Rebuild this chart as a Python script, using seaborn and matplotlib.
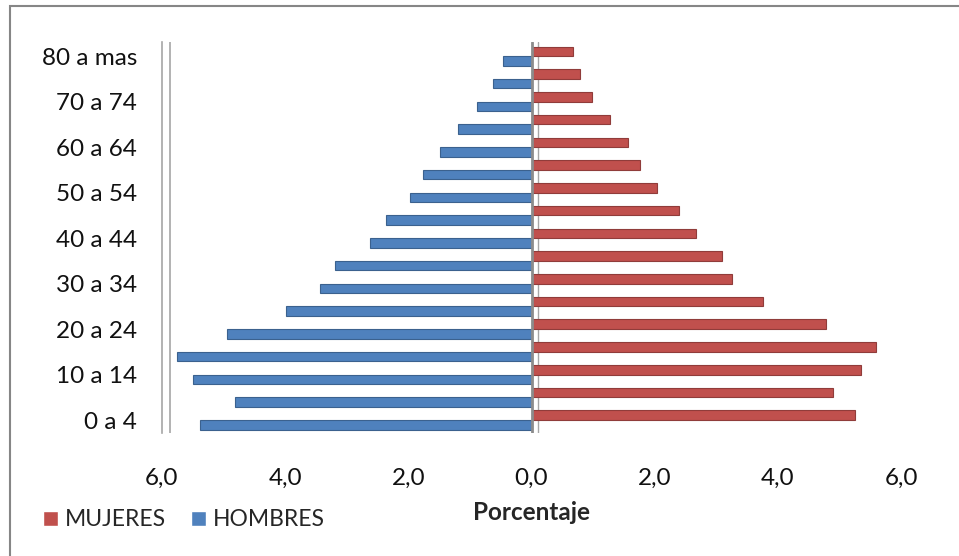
import pandas as pd
import seaborn as sns
import matplotlib.pyplot as plt
from matplotlib.patches import Rectangle

# Age groups, from youngest to oldest
edades = ['0 a 4', '5 a 9', '10 a 14', '15 a 19', '20 a 24', '25 a 29', '30 a 34',
          '35 a 39', '40 a 44', '45 a 49', '50 a 54', '55 a 59', '60 a 64',
          '65 a 69', '70 a 74', '75 a 79', '80 a mas']

# Percentage of population per age group
hombres = [5.38, 4.81, 5.49, 5.75, 4.94, 3.99, 3.43, 3.19, 2.63, 2.37, 1.98,
           1.76, 1.48, 1.19, 0.88, 0.62, 0.46]
mujeres = [5.25, 4.89, 5.35, 5.59, 4.78, 3.76, 3.25, 3.09, 2.67, 2.39, 2.03,
           1.76, 1.56, 1.27, 0.98, 0.78, 0.67]

xticks = [-6, -4, -2, 0, 2, 4, 6]
xtick_labels = ['6,0', '4,0', '2,0', '0,0', '2,0', '4,0', '6,0']

# Long table, men drawn to the left as negative values
df = pd.concat([
    pd.DataFrame({'edad': edades, 'valor': mujeres, 'sexo': 'MUJERES'}),
    pd.DataFrame({'edad': edades, 'valor': [-v for v in hombres], 'sexo': 'HOMBRES'}),
])

sns.set_style('white')
plt.rcParams['font.family'] = ['Lato', 'DejaVu Sans']

fig = plt.figure(figsize=(9.59, 5.56), dpi=100)
ax = fig.add_axes([162 / 959, 1 - 433 / 556, (901 - 162) / 959, (433 - 42) / 556])

sns.barplot(data=df, x='valor', y='edad', hue='sexo', order=edades[::-1],
            hue_order=['MUJERES', 'HOMBRES'], palette=['#C0504D', '#4F81BD'],
            orient='h', dodge=True, width=0.84, ax=ax, saturation=1)

# darker top edge for a bit of the 3D look
for patch in ax.patches:
    fc = patch.get_facecolor()
    patch.set_edgecolor((fc[0] * 0.75, fc[1] * 0.75, fc[2] * 0.75, 1))
    patch.set_linewidth(0.8)

ax.set_xlim(-6, 6)
ax.set_ylim(16.57, -0.62)

# zero line and left wall
ax.axvline(0, color='#8c8c8c', lw=2, zorder=5)
ax.axvline(0.11, color='#a6a6a6', lw=1, zorder=0)
ax.axvline(-5.87, color='#a6a6a6', lw=1.2)

for side in ['top', 'right', 'bottom']:
    ax.spines[side].set_visible(False)
ax.spines['left'].set_color('#a6a6a6')
ax.spines['left'].set_linewidth(1.2)

ax.set_xticks(xticks)
ax.set_xticklabels(xtick_labels)
# only every other age group gets a label
ylabels = [e if i % 2 == 0 else '' for i, e in enumerate(edades[::-1])]
ax.set_yticks(range(len(edades)))
ax.set_yticklabels(ylabels)
ax.tick_params(axis='x', length=0, pad=25, labelsize=17.5, labelcolor='#111111')
ax.tick_params(axis='y', length=0, pad=18, labelsize=17.5, labelcolor='#111111')

ax.set_ylabel('')
ax.set_xlabel('Porcentaje', fontsize=17.5, fontweight='bold', labelpad=9)

sns.move_legend(ax, loc='center left', bbox_to_anchor=(-0.177, -0.222), ncol=2,
                frameon=False, title=None, fontsize=16.5, borderpad=0,
                handlelength=0.66, handleheight=0.66, handletextpad=0.3,
                columnspacing=1.1)

# outer chart border
fig.patches.append(Rectangle((10 / 959, -0.05), 1.0, 1 - 6 / 556 + 0.05,
                             transform=fig.transFigure, fill=False,
                             edgecolor='#868686', lw=1.5))

plt.savefig('out.png', dpi=100)
